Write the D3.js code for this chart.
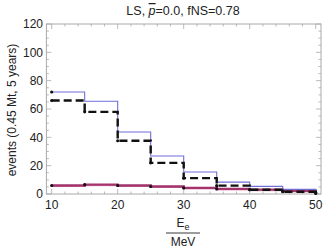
<!DOCTYPE html>
<html><head><meta charset="utf-8">
<script src="https://cdn.jsdelivr.net/npm/d3@7"></script>
<style>body{margin:0;background:#fff}svg{display:block}text{font-family:"Liberation Sans",Arial,sans-serif}</style>
</head><body>
<script>
const binEdges = [10, 15, 20, 25, 30, 35, 40, 45, 50];
const blueSeries = [72, 65.5, 43.8, 26.8, 15.5, 8.4, 5.4, 3.3, 1.5];
const dashedSeries = [66, 58, 37.6, 22, 11.2, 5.9, 3.0, 1.6, 0.4];
const magentaSeries = [6.0, 6.6, 6.0, 5.3, 4.3, 3.6, 3.1, 2.3, 1.2];
const pinkSeries = [5.3, 5.9, 5.3, 4.6, 3.6, 2.9, 2.3, 1.5, 0.6];
const xTicks = [10, 20, 30, 40, 50];
const yTicks = [0, 20, 40, 60, 80, 100, 120];
const titleText = "LS, ";

const W = 324, H = 251;
const L = 46.4, R = 321, T = 24, B = 194;
const svg = d3.select("body").append("svg").attr("width", W).attr("height", H);
const x = d3.scaleLinear().domain([9.2, 50.8]).range([L, R]);
const y = d3.scaleLinear().domain([0, 120]).range([B, T]);

const frameCol = "#aaaaaa";
svg.append("rect").attr("x", L).attr("y", T).attr("width", R - L).attr("height", B - T)
  .attr("fill", "none").attr("stroke", frameCol).attr("stroke-width", 1);

const xMinor = d3.range(10, 51, 2).filter(v => v % 10 !== 0);
const yMinor = d3.range(0, 121, 5).filter(v => v % 20 !== 0);
const tg = svg.append("g").attr("stroke", frameCol).attr("stroke-width", 0.8);
xTicks.forEach(v => {
  tg.append("line").attr("x1", x(v)).attr("x2", x(v)).attr("y1", B).attr("y2", B - 5);
  tg.append("line").attr("x1", x(v)).attr("x2", x(v)).attr("y1", T).attr("y2", T + 5);
});
xMinor.forEach(v => {
  tg.append("line").attr("x1", x(v)).attr("x2", x(v)).attr("y1", B).attr("y2", B - 2.5);
  tg.append("line").attr("x1", x(v)).attr("x2", x(v)).attr("y1", T).attr("y2", T + 2.5);
});
yTicks.forEach(v => {
  tg.append("line").attr("x1", L).attr("x2", L + 5).attr("y1", y(v)).attr("y2", y(v));
  tg.append("line").attr("x1", R).attr("x2", R - 5).attr("y1", y(v)).attr("y2", y(v));
});
yMinor.forEach(v => {
  tg.append("line").attr("x1", L).attr("x2", L + 2.5).attr("y1", y(v)).attr("y2", y(v));
  tg.append("line").attr("x1", R).attr("x2", R - 2.5).attr("y1", y(v)).attr("y2", y(v));
});

svg.append("g").selectAll("text").data(xTicks).join("text")
  .attr("x", d => x(d)).attr("y", 209).attr("text-anchor", "middle")
  .attr("font-size", 12).attr("fill", "#222").text(d => d);
svg.append("g").selectAll("text").data(yTicks).join("text")
  .attr("x", 43).attr("y", d => y(d) + 4.3).attr("text-anchor", "end")
  .attr("font-size", 12).attr("fill", "#222").text(d => d);

const step = d3.line().x(d => x(d[0])).y(d => y(d[1])).curve(d3.curveStepAfter);
function pts(vals) { return binEdges.map((e, i) => [e, vals[i]]); }

const plot = svg.append("g");
plot.append("path").attr("d", step(pts(pinkSeries))).attr("fill", "none")
  .attr("stroke", "#e6a0c0").attr("stroke-width", 1.2);
plot.append("path").attr("d", step(pts(magentaSeries))).attr("fill", "none")
  .attr("stroke", "#a3336d").attr("stroke-width", 2.4);
plot.append("path").attr("d", step(pts(blueSeries))).attr("fill", "none")
  .attr("stroke", "#6f6fd6").attr("stroke-width", 1.1);
plot.append("path").attr("d", step(pts(dashedSeries))).attr("fill", "none")
  .attr("stroke", "#111").attr("stroke-width", 2.4).attr("stroke-dasharray", "8,4");

[dashedSeries, magentaSeries].forEach(s => {
  plot.append("g").selectAll("circle").data(pts(s)).join("circle")
    .attr("cx", d => x(d[0])).attr("cy", d => y(d[1])).attr("r", 1.6).attr("fill", "#111");
});
plot.append("g").selectAll("circle").data(pts(blueSeries).slice(0, 1)).join("circle")
  .attr("cx", d => x(d[0])).attr("cy", d => y(d[1])).attr("r", 1.6).attr("fill", "#111");

const tt = svg.append("text").attr("x", 183).attr("y", 15).attr("text-anchor", "middle")
  .attr("font-size", 12.5).attr("fill", "#222");
tt.append("tspan").text(titleText);
tt.append("tspan").attr("font-style", "italic").attr("text-decoration", "overline").text("p");
tt.append("tspan").text("=0.0, fNS=0.78");

svg.append("text").attr("transform", "translate(16,110) rotate(-90)").attr("text-anchor", "middle")
  .attr("font-size", 12).attr("fill", "#222").text("events (0.45 Mt, 5 years)");

const xl = svg.append("text").attr("x", 183).attr("y", 227).attr("text-anchor", "middle")
  .attr("font-size", 12).attr("fill", "#222");
xl.append("tspan").text("E");
xl.append("tspan").attr("font-size", 9).attr("dy", 2.5).text("e");
svg.append("line").attr("x1", 166).attr("x2", 200).attr("y1", 233).attr("y2", 233)
  .attr("stroke", "#222").attr("stroke-width", 0.9);
svg.append("text").attr("x", 183).attr("y", 246).attr("text-anchor", "middle")
  .attr("font-size", 12).attr("fill", "#222").text("MeV");
</script>
</body></html>
